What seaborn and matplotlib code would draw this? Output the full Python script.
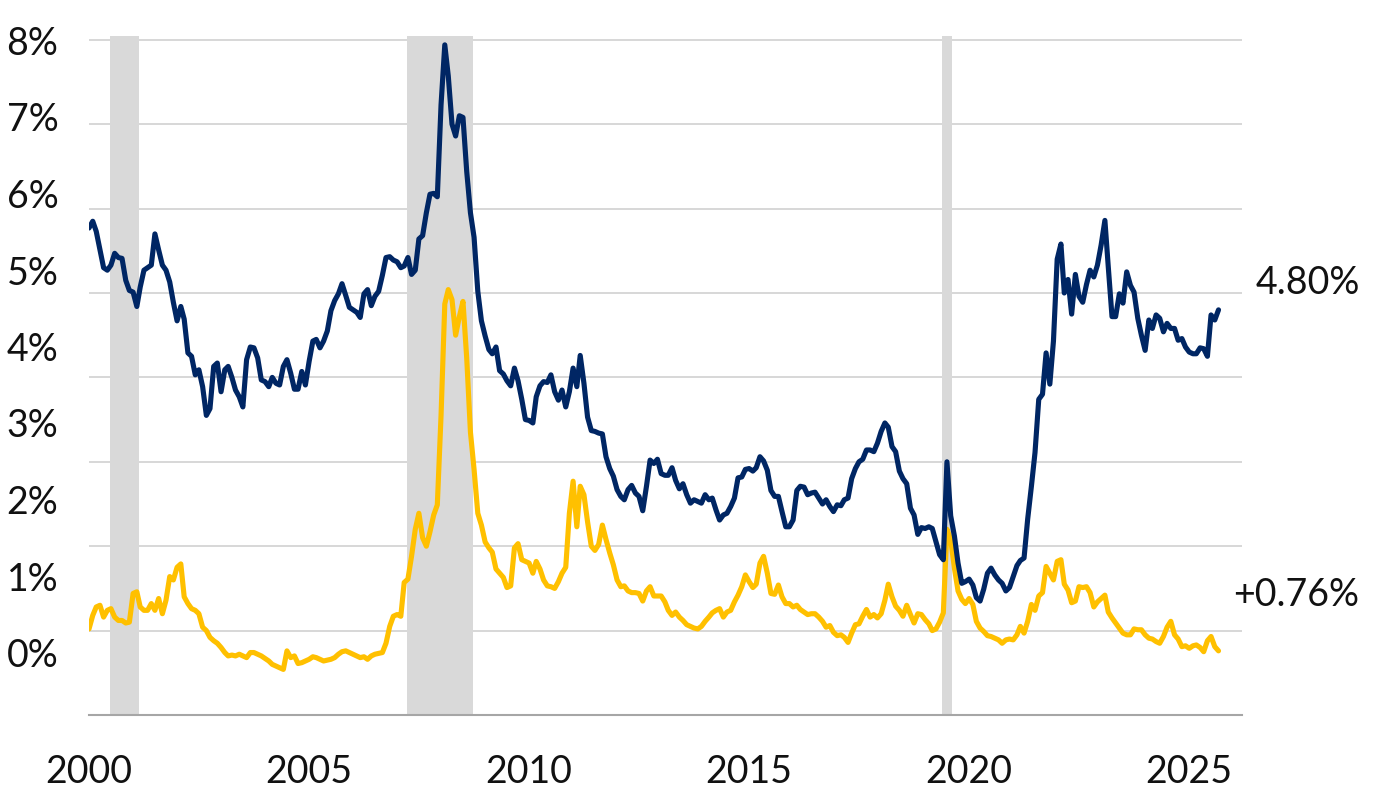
import pandas as pd
import matplotlib
matplotlib.use("Agg")
import matplotlib.pyplot as plt
import seaborn as sns

# monthly series, Jan 2000 .. Sep 2025 (values in %)
start_month = "2000-01-01"

blue_values = [
    5.77, 5.85, 5.73, 5.51, 5.30, 5.27, 5.33, 5.47, 5.42, 5.41,
    5.15, 5.03, 5.01, 4.84, 5.07, 5.27, 5.30, 5.33, 5.70, 5.51,
    5.33, 5.27, 5.13, 4.89, 4.67, 4.84, 4.69, 4.29, 4.25, 4.03,
    4.09, 3.89, 3.55, 3.63, 4.13, 4.17, 3.83, 4.09, 4.13, 4.00,
    3.85, 3.77, 3.65, 4.21, 4.36, 4.35, 4.23, 3.97, 3.95, 3.89,
    4.00, 3.93, 3.91, 4.13, 4.21, 4.05, 3.86, 3.86, 4.07, 3.91,
    4.19, 4.43, 4.45, 4.35, 4.43, 4.55, 4.79, 4.91, 4.99, 5.11,
    4.97, 4.83, 4.80, 4.77, 4.71, 4.99, 5.04, 4.85, 4.96, 5.02,
    5.21, 5.42, 5.43, 5.39, 5.37, 5.30, 5.32, 5.42, 5.22, 5.27,
    5.64, 5.68, 5.95, 6.17, 6.18, 6.14, 7.23, 7.94, 7.57, 7.00,
    6.86, 7.10, 7.08, 6.44, 5.95, 5.66, 5.02, 4.67, 4.49, 4.33,
    4.28, 4.36, 4.08, 4.04, 3.96, 3.90, 4.11, 3.96, 3.74, 3.50,
    3.49, 3.46, 3.77, 3.90, 3.95, 3.94, 4.03, 3.83, 3.73, 3.85,
    3.65, 3.83, 4.11, 3.89, 4.26, 3.93, 3.53, 3.37, 3.36, 3.34,
    3.33, 3.06, 2.92, 2.83, 2.67, 2.59, 2.55, 2.67, 2.72, 2.63,
    2.59, 2.42, 2.71, 3.02, 2.98, 3.03, 2.86, 2.84, 2.84, 2.93,
    2.78, 2.68, 2.74, 2.61, 2.51, 2.55, 2.53, 2.51, 2.61, 2.55,
    2.57, 2.43, 2.31, 2.37, 2.39, 2.47, 2.57, 2.81, 2.82, 2.91,
    2.92, 2.89, 2.93, 3.06, 3.01, 2.90, 2.66, 2.59, 2.59, 2.41,
    2.23, 2.23, 2.31, 2.66, 2.71, 2.70, 2.61, 2.63, 2.64, 2.57,
    2.50, 2.55, 2.47, 2.41, 2.49, 2.48, 2.55, 2.57, 2.80, 2.92,
    3.00, 3.03, 3.14, 3.14, 3.12, 3.22, 3.36, 3.46, 3.41, 3.18,
    3.12, 2.89, 2.80, 2.74, 2.45, 2.37, 2.14, 2.22, 2.21, 2.23,
    2.21, 2.05, 1.90, 1.84, 3.00, 2.36, 2.12, 1.80, 1.56, 1.58,
    1.61, 1.54, 1.39, 1.35, 1.49, 1.68, 1.74, 1.66, 1.60, 1.56,
    1.47, 1.51, 1.64, 1.77, 1.83, 1.86, 2.32, 2.71, 3.11, 3.74,
    3.80, 4.29, 3.92, 4.43, 5.40, 5.58, 5.00, 5.16, 4.75, 5.22,
    4.96, 4.89, 5.10, 5.27, 5.19, 5.33, 5.57, 5.86, 5.31, 4.72,
    4.72, 4.99, 4.88, 5.25, 5.09, 5.01, 4.70, 4.50, 4.32, 4.68,
    4.58, 4.74, 4.70, 4.54, 4.64, 4.58, 4.58, 4.44, 4.46, 4.36,
    4.30, 4.28, 4.28, 4.35, 4.34, 4.25, 4.74, 4.68, 4.80,
]

yellow_values = [
    1.02, 1.18, 1.28, 1.30, 1.16, 1.24, 1.26, 1.16, 1.12, 1.12,
    1.09, 1.10, 1.44, 1.46, 1.28, 1.24, 1.24, 1.32, 1.24, 1.38,
    1.20, 1.36, 1.64, 1.60, 1.75, 1.79, 1.40, 1.32, 1.26, 1.24,
    1.20, 1.04, 1.00, 0.92, 0.88, 0.85, 0.80, 0.74, 0.70, 0.71,
    0.70, 0.72, 0.70, 0.68, 0.74, 0.74, 0.72, 0.70, 0.67, 0.64,
    0.60, 0.58, 0.56, 0.54, 0.76, 0.68, 0.70, 0.61, 0.62, 0.64,
    0.66, 0.69, 0.68, 0.66, 0.64, 0.65, 0.66, 0.68, 0.72, 0.75,
    0.76, 0.74, 0.72, 0.70, 0.68, 0.69, 0.66, 0.70, 0.72, 0.73,
    0.74, 0.85, 1.05, 1.17, 1.19, 1.17, 1.57, 1.61, 1.88, 2.20,
    2.39, 2.10, 2.00, 2.17, 2.37, 2.49, 3.55, 4.87, 5.04, 4.92,
    4.50, 4.72, 4.90, 4.23, 3.35, 2.91, 2.39, 2.25, 2.05, 1.98,
    1.93, 1.73, 1.68, 1.63, 1.51, 1.53, 1.98, 2.03, 1.84, 1.82,
    1.80, 1.68, 1.82, 1.73, 1.60, 1.53, 1.52, 1.50, 1.58, 1.68,
    1.75, 2.39, 2.77, 2.23, 2.71, 2.61, 2.29, 2.00, 1.95, 2.02,
    2.25, 2.08, 1.92, 1.78, 1.60, 1.52, 1.53, 1.47, 1.45, 1.45,
    1.44, 1.35, 1.47, 1.52, 1.41, 1.41, 1.41, 1.34, 1.24, 1.18,
    1.22, 1.16, 1.12, 1.07, 1.05, 1.03, 1.02, 1.05, 1.11, 1.16,
    1.21, 1.24, 1.26, 1.16, 1.22, 1.24, 1.34, 1.42, 1.52, 1.66,
    1.58, 1.51, 1.55, 1.80, 1.88, 1.68, 1.44, 1.43, 1.54, 1.40,
    1.32, 1.32, 1.28, 1.30, 1.25, 1.22, 1.19, 1.20, 1.20, 1.16,
    1.11, 1.04, 1.06, 0.98, 0.94, 0.95, 0.92, 0.86, 0.97, 1.07,
    1.08, 1.17, 1.25, 1.16, 1.19, 1.15, 1.20, 1.36, 1.55, 1.40,
    1.29, 1.24, 1.17, 1.30, 1.19, 1.09, 1.20, 1.19, 1.13, 1.08,
    1.00, 1.02, 1.10, 1.21, 2.20, 2.08, 1.74, 1.47, 1.37, 1.32,
    1.38, 1.31, 1.11, 1.03, 0.99, 0.94, 0.93, 0.91, 0.89, 0.85,
    0.89, 0.90, 0.89, 0.95, 1.05, 0.97, 1.11, 1.31, 1.24, 1.41,
    1.45, 1.76, 1.68, 1.60, 1.82, 1.84, 1.55, 1.48, 1.33, 1.35,
    1.52, 1.51, 1.52, 1.45, 1.28, 1.34, 1.38, 1.42, 1.22, 1.15,
    1.09, 1.03, 0.97, 0.95, 0.95, 1.02, 1.01, 1.01, 0.95, 0.91,
    0.90, 0.87, 0.85, 0.93, 1.04, 1.11, 0.95, 0.90, 0.81, 0.82,
    0.79, 0.82, 0.83, 0.80, 0.75, 0.88, 0.93, 0.81, 0.76,
]

# shaded periods
shade_starts = ["2000-06-20", "2007-03-28", "2019-05-18"]
shade_ends = ["2001-02-20", "2008-09-20", "2019-08-08"]

tick_years = [2000, 2005, 2010, 2015, 2020, 2025]
grid_levels = [1, 2, 3, 4, 5, 6, 7, 8]
y_labels = ["8%", "7%", "6%", "5%", "4%", "3%", "2%", "1%", "0%"]
y_label_pos = [7.99, 7.09, 6.18, 5.27, 4.37, 3.46, 2.55, 1.64, 0.74]

BLUE = "#002664"
GOLD = "#FFC000"


def main():
    df = pd.DataFrame({
        "date": pd.date_range(start_month, periods=len(blue_values), freq="MS"),
        "blue": blue_values,
        "yellow": yellow_values,
    })

    sns.set_style("white")
    plt.rcParams["font.family"] = ["Lato", "DejaVu Sans"]

    fig = plt.figure(figsize=(13.8, 8), dpi=100)
    ax = fig.add_axes([0.0645, 0.10625, 0.8355, 0.8493])

    for s, e in zip(shade_starts, shade_ends):
        ax.axvspan(pd.Timestamp(s), pd.Timestamp(e), color="#d9d9d9", lw=0, zorder=1)

    sns.lineplot(data=df, x="date", y="yellow", color=GOLD, lw=3.7, ax=ax, zorder=3)
    sns.lineplot(data=df, x="date", y="blue", color=BLUE, lw=3.7, ax=ax, zorder=4)

    ax.set_xlim(pd.Timestamp("2000-01-01"), pd.Timestamp("2026-03-15"))
    ax.set_ylim(0, 8.05)
    ax.set_xlabel("")
    ax.set_ylabel("")

    ax.set_xticks([pd.Timestamp(f"{y}-01-01") for y in tick_years],
                  labels=[str(y) for y in tick_years])
    ax.tick_params(axis="x", length=7, width=1, color="#a6a6a6", pad=21,
                   labelsize=27, labelcolor="#111111", direction="out")

    ax.set_yticks(grid_levels, minor=True)
    ax.set_yticks(y_label_pos, labels=y_labels)
    ax.tick_params(axis="y", which="both", length=0, pad=22,
                   labelsize=27, labelcolor="#111111")
    ax.yaxis.grid(True, which="minor", color="#d4d4d4", lw=1.3)
    ax.yaxis.grid(False, which="major")
    ax.xaxis.grid(False)
    ax.set_axisbelow(True)

    for side in ["left", "right", "top"]:
        ax.spines[side].set_visible(False)
    ax.spines["bottom"].set_color("#a6a6a6")
    ax.spines["bottom"].set_linewidth(1.5)

    ax.text(1.102, 5.12, f"{blue_values[-1]:.2f}%", transform=ax.get_yaxis_transform(),
            ha="right", va="center", fontsize=27, color="#111111", clip_on=False)
    ax.text(1.102, 1.42, f"+{yellow_values[-1]:.2f}%", transform=ax.get_yaxis_transform(),
            ha="right", va="center", fontsize=27, color="#111111", clip_on=False)

    fig.savefig("out.png", dpi=100)


if __name__ == "__main__":
    main()
